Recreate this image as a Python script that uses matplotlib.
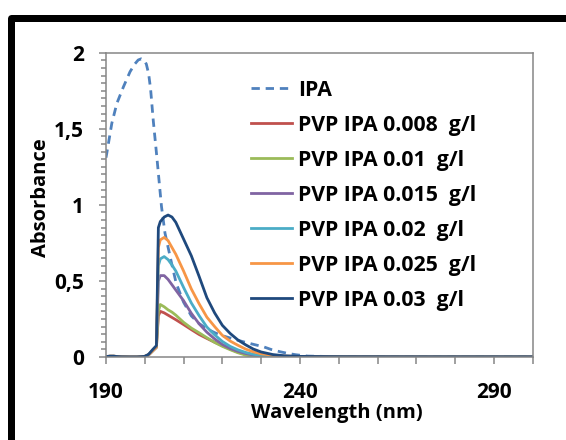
import matplotlib
matplotlib.use("Agg")
import matplotlib.pyplot as plt
from matplotlib.patches import Rectangle
from matplotlib.ticker import FixedLocator, MultipleLocator, FuncFormatter

plt.rcParams['font.family'] = ['Open Sans', 'DejaVu Sans']
plt.rcParams['font.weight'] = 'bold'

# ---- data ----
wl_ipa = [190, 190.2, 191.5, 192.8, 194.5, 196.2, 197.4, 198.3, 199.1, 199.8, 200.4,
          201.0, 201.5, 202.2, 203.1, 204.3, 205.2, 206.9, 208.1, 210, 212, 214, 216,
          218, 220, 222, 224, 226.3, 228.5, 230.5, 232.5, 234.8, 236.8, 238.9, 242,
          250, 270, 300]
ipa = [1.31, 1.339, 1.536, 1.667, 1.776, 1.875, 1.925, 1.952, 1.96, 1.952, 1.925,
       1.86, 1.76, 1.55, 1.316, 0.99, 0.815, 0.617, 0.484, 0.36, 0.27, 0.22, 0.185,
       0.16, 0.14, 0.125, 0.11, 0.094, 0.08, 0.068, 0.05, 0.035, 0.024, 0.015, 0.006,
       0.002, 0.001, 0.001]

wl = [190, 191, 192, 193, 194, 196, 198, 200, 201, 202, 203, 203.5, 204, 205, 206,
      207, 208, 210, 212, 214, 216, 218, 220, 222, 224, 226, 228, 230, 233, 236,
      240, 250, 270, 300]
pvp_008 = [0.003, 0.005, 0.005, 0.003, 0.001, 0, 0, 0.004, 0.015, 0.04, 0.065, 0.27, 0.30,
           0.29, 0.275, 0.26, 0.245, 0.213, 0.18, 0.148, 0.122, 0.097, 0.074, 0.052,
           0.032, 0.018, 0.007, 0.003, 0.001, 0, 0, 0, 0, 0]
pvp_010 = [0.003, 0.005, 0.005, 0.003, 0.001, 0, 0, 0.004, 0.015, 0.04, 0.065, 0.30, 0.345,
           0.33, 0.31, 0.295, 0.275, 0.228, 0.19, 0.159, 0.127, 0.096, 0.07, 0.048,
           0.028, 0.012, 0.004, 0.001, 0, 0, 0, 0, 0, 0]
pvp_015 = [0.003, 0.005, 0.005, 0.003, 0.001, 0, 0, 0.004, 0.015, 0.04, 0.065, 0.50, 0.535,
           0.535, 0.51, 0.475, 0.44, 0.37, 0.287, 0.218, 0.163, 0.119, 0.082, 0.056,
           0.037, 0.023, 0.013, 0.007, 0.004, 0.002, 0.001, 0, 0, 0]
pvp_020 = [0.003, 0.005, 0.005, 0.003, 0.001, 0, 0, 0.004, 0.015, 0.04, 0.065, 0.60, 0.645,
           0.66, 0.64, 0.605, 0.565, 0.457, 0.355, 0.272, 0.197, 0.146, 0.102, 0.07,
           0.047, 0.03, 0.018, 0.011, 0.005, 0.003, 0.002, 0.001, 0, 0]
pvp_025 = [0.003, 0.005, 0.005, 0.003, 0.001, 0, 0, 0.004, 0.015, 0.04, 0.065, 0.72, 0.77,
           0.786, 0.765, 0.72, 0.675, 0.565, 0.447, 0.35, 0.262, 0.2, 0.142, 0.105,
           0.077, 0.052, 0.034, 0.021, 0.011, 0.006, 0.003, 0.001, 0, 0]
pvp_030 = [0.003, 0.005, 0.005, 0.003, 0.001, 0, 0, 0.004, 0.018, 0.048, 0.075, 0.85, 0.89,
           0.92, 0.933, 0.92, 0.885, 0.775, 0.665, 0.53, 0.39, 0.29, 0.208, 0.155,
           0.112, 0.08, 0.052, 0.033, 0.016, 0.008, 0.004, 0.002, 0.001, 0.001]

labels = ['IPA', 'PVP IPA 0.008  g/l', 'PVP IPA 0.01  g/l', 'PVP IPA 0.015  g/l',
          'PVP IPA 0.02  g/l', 'PVP IPA 0.025  g/l', 'PVP IPA 0.03  g/l']
colors = ['#4F81BD', '#C0504D', '#9BBB59', '#8064A2', '#4BACC6', '#F79646', '#1F497D']

x_major = [190, 240, 290]
y_ticks = [0, 0.5, 1, 1.5, 2]

# ---- figure ----
W, H = 566, 440
fig = plt.figure(figsize=(W / 100, H / 100), dpi=100)
fig.patch.set_facecolor('white')

# outer black frame
frame = Rectangle((10.5 / W, 1 - 441.5 / H), (580 - 10.5) / W, (441.5 - 18) / H,
                  transform=fig.transFigure, fill=False, edgecolor='black',
                  linewidth=7 * 0.72, joinstyle='round', clip_on=False)
fig.patches.append(frame)

ax = fig.add_axes([106 / W, 1 - 357 / H, (532.7 - 106) / W, (357 - 52.7) / H])

lw = 2.0
ax.plot(wl_ipa, ipa, color=colors[0], lw=lw, linestyle=(0, (3.0, 2.1)), label=labels[0])
series = [pvp_008, pvp_010, pvp_015, pvp_020, pvp_025, pvp_030]
for s, lab, c in zip(series, labels[1:], colors[1:]):
    ax.plot(wl, s, color=c, lw=lw, label=lab, solid_joinstyle='round')

ax.set_xlim(190, 300)
ax.set_ylim(0, 2)

spine_c = '#868686'
for sp in ax.spines.values():
    sp.set_color(spine_c)
    sp.set_linewidth(1.1)

ax.xaxis.set_major_locator(FixedLocator(x_major))
ax.xaxis.set_minor_locator(MultipleLocator(10))
ax.yaxis.set_major_locator(FixedLocator(y_ticks))
ax.yaxis.set_minor_locator(MultipleLocator(0.05))
ax.yaxis.set_major_formatter(FuncFormatter(lambda v, p: ('%g' % v).replace('.', ',')))

ax.tick_params(axis='x', which='both', direction='out', length=4.8, width=1.1,
               color=spine_c, labelsize=15, pad=13)
ax.tick_params(axis='y', which='major', direction='out', length=5, width=1.1,
               color=spine_c, labelsize=15, pad=11)
ax.tick_params(axis='y', which='minor', direction='out', length=3.8, width=1.1,
               color=spine_c)
for t in ax.get_xticklabels() + ax.get_yticklabels():
    t.set_fontweight('bold')

ax.set_xlabel('Wavelength (nm)', fontsize=14.5, fontweight='bold')
ax.xaxis.set_label_coords(0.541, -0.152)
ax.set_ylabel('Absorbance', fontsize=14.5, fontweight='bold')
ax.yaxis.set_label_coords(-0.13, 0.525)

leg = ax.legend(loc='upper left', bbox_to_anchor=(0.34, 0.911), frameon=False,
                prop={'size': 15.3, 'weight': 'bold'}, handlelength=1.93,
                handletextpad=0.28, labelspacing=0.66, borderpad=0, borderaxespad=0)

fig.savefig('out.png', dpi=100)
